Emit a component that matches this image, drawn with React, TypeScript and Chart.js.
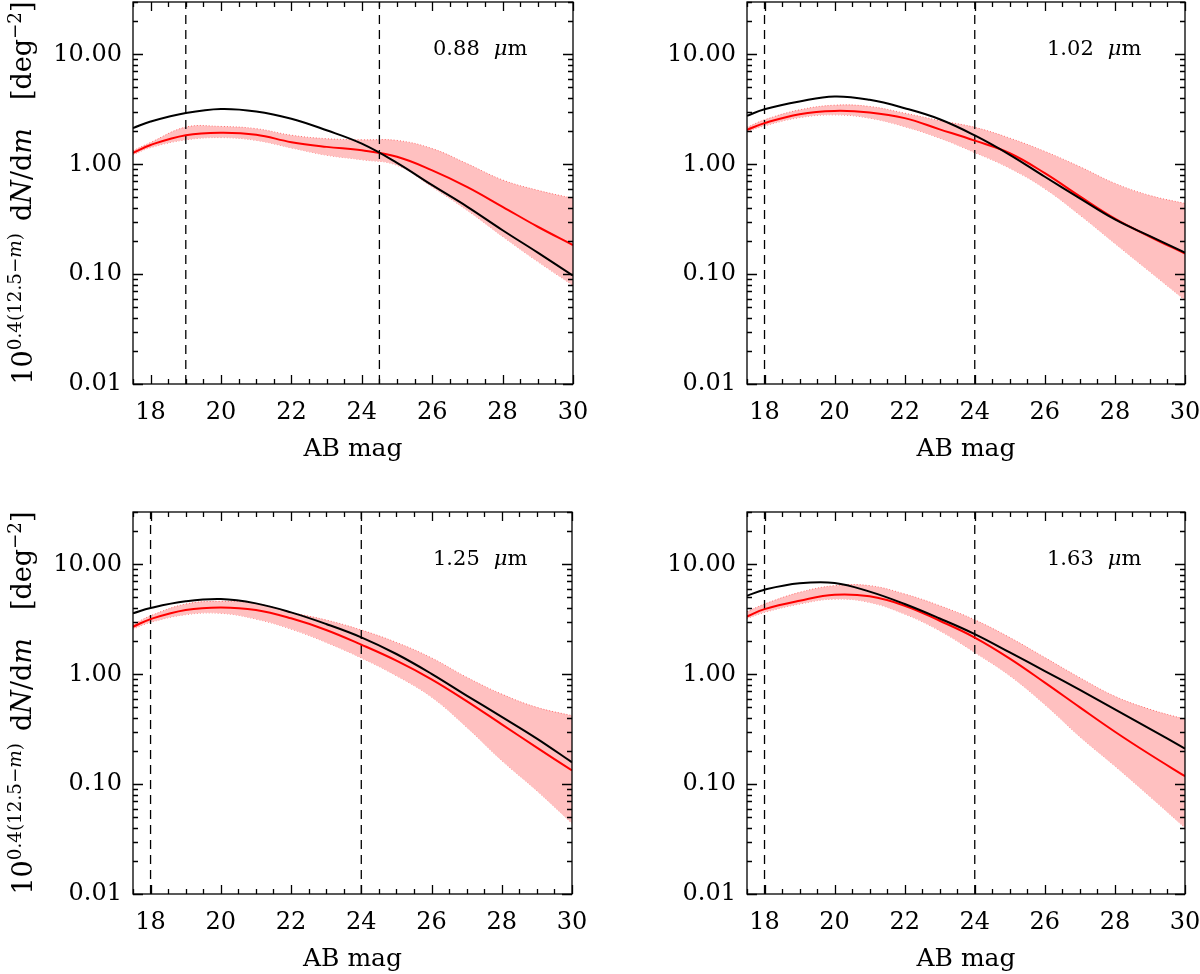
import React, { useEffect, useRef } from 'react';
import { Chart, registerables } from 'chart.js';

Chart.register(...registerables);

// magnitude grid used for every curve
const mags = [17.5, 18, 19, 20, 21, 22, 23, 24, 25, 26, 27, 28, 29, 30];
const xMajor = [18, 20, 22, 24, 26, 28, 30];
const yMajor = [0.01, 0.1, 1, 10];
const bands = ['0.88', '1.02', '1.25', '1.63'];

// 0.88 um
const model088 = [2.14, 2.45, 2.93, 3.19, 3.03, 2.6, 2.04, 1.54, 1.03, 0.645, 0.41, 0.251, 0.157, 0.097];
const median088 = [1.27, 1.5, 1.84, 1.94, 1.86, 1.59, 1.44, 1.34, 1.17, 0.88, 0.62, 0.41, 0.27, 0.184];
const upper088 = [1.33, 1.58, 2.18, 2.21, 2.11, 1.84, 1.71, 1.67, 1.65, 1.39, 1.01, 0.72, 0.58, 0.49];
const lower088 = [1.22, 1.42, 1.67, 1.75, 1.65, 1.41, 1.21, 1.1, 0.98, 0.62, 0.38, 0.22, 0.13, 0.079];
const cuts088 = [19, 24.5];

// 1.02 um
const model102 = [2.76, 3.17, 3.73, 4.14, 3.86, 3.24, 2.57, 1.83, 1.22, 0.77, 0.49, 0.315, 0.222, 0.157];
const median102 = [2.06, 2.37, 2.86, 3.06, 2.96, 2.63, 2.08, 1.64, 1.26, 0.83, 0.51, 0.32, 0.219, 0.154];
const upper102 = [2.17, 2.54, 3.13, 3.45, 3.36, 2.92, 2.5, 2.17, 1.73, 1.31, 0.95, 0.67, 0.52, 0.44];
const lower102 = [1.99, 2.24, 2.66, 2.82, 2.63, 2.2, 1.73, 1.28, 0.92, 0.6, 0.345, 0.19, 0.105, 0.058];
const cuts102 = [18, 24];

// 1.25 um
const model125 = [3.59, 4.01, 4.61, 4.84, 4.42, 3.66, 2.87, 2.17, 1.53, 1.01, 0.64, 0.41, 0.26, 0.158];
const median125 = [2.71, 3.18, 3.85, 4.06, 3.85, 3.23, 2.53, 1.86, 1.33, 0.9, 0.57, 0.35, 0.215, 0.133];
const upper125 = [2.83, 3.41, 4.36, 4.61, 4.42, 3.66, 3.12, 2.53, 1.95, 1.41, 0.94, 0.66, 0.5, 0.42];
const lower125 = [2.58, 2.97, 3.49, 3.59, 3.18, 2.58, 1.95, 1.41, 0.97, 0.62, 0.33, 0.164, 0.087, 0.044];
const cuts125 = [18, 24];

// 1.63 um
const model163 = [5.19, 5.89, 6.73, 6.78, 5.65, 4.36, 3.22, 2.32, 1.58, 1.07, 0.72, 0.48, 0.319, 0.21];
const median163 = [3.36, 3.92, 4.67, 5.3, 5.12, 4.21, 3.07, 2.16, 1.39, 0.84, 0.5, 0.3, 0.186, 0.118];
const upper163 = [3.71, 4.36, 5.57, 6.41, 6.41, 5.38, 4.21, 3.13, 2.16, 1.42, 0.93, 0.63, 0.48, 0.39];
const lower163 = [3.22, 3.66, 4.36, 4.84, 4.51, 3.53, 2.49, 1.58, 0.97, 0.53, 0.27, 0.146, 0.077, 0.04];
const cuts163 = [18, 24];

const FONT = "'DejaVu Serif', serif";
const CW = 600;
const CH = 464;

const pts = (ys: number[]) => mags.map((m, i) => ({ x: m, y: ys[i] }));

// frame with inward ticks, IDL style
const framePlugin = {
  id: 'frame',
  afterDatasetsDraw(chart: any) {
    const { ctx, chartArea: a, scales } = chart;
    const x = scales.x;
    const y = scales.y;
    ctx.save();
    ctx.strokeStyle = '#000';
    ctx.lineWidth = 1.3;
    ctx.strokeRect(a.left, a.top, a.right - a.left, a.bottom - a.top);
    ctx.beginPath();
    for (let m = 17.5; m <= 30.001; m += 0.5) {
      const px = Math.round(x.getPixelForValue(m)) + 0.5;
      const len = m % 2 === 0 ? 9 : 5;
      ctx.moveTo(px, a.bottom);
      ctx.lineTo(px, a.bottom - len);
      ctx.moveTo(px, a.top);
      ctx.lineTo(px, a.top + len);
    }
    for (let e = -2; e <= 1; e++) {
      for (let k = 1; k <= 9; k++) {
        const v = k * Math.pow(10, e);
        if (v > 30) break;
        const py = Math.round(y.getPixelForValue(v)) + 0.5;
        const len = k === 1 ? 10 : 5;
        ctx.moveTo(a.left, py);
        ctx.lineTo(a.left + len, py);
        ctx.moveTo(a.right, py);
        ctx.lineTo(a.right - len, py);
      }
    }
    ctx.stroke();
    ctx.restore();
  },
};

type PanelProps = {
  left: number;
  top: number;
  areaLeft: number;
  areaRight: number;
  model: number[];
  median: number[];
  upper: number[];
  lower: number[];
  cuts: number[];
  band: string;
};

const Panel = ({ left, top, areaLeft, areaRight, model, median, upper, lower, cuts, band }: PanelProps) => {
  const chartRef = useRef<HTMLCanvasElement>(null);

  useEffect(() => {
    if (!chartRef.current) return;
    const cutSets = cuts.map((c) => ({
      data: [{ x: c, y: 0.01 }, { x: c, y: 30 }],
      borderColor: '#000',
      borderWidth: 1.3,
      borderDash: [9, 6],
      tension: 0,
      fill: false,
    }));
    const chart = new Chart(chartRef.current, {
      type: 'line',
      data: {
        datasets: [
          { data: pts(model), borderColor: '#000', borderWidth: 2, tension: 0.4, fill: false },
          { data: pts(median), borderColor: '#ff0000', borderWidth: 2, tension: 0.4, fill: false },
          ...cutSets,
          {
            data: pts(upper),
            borderColor: '#ff6a6a',
            borderWidth: 1,
            borderDash: [1, 2],
            tension: 0.4,
            fill: '+1',
            backgroundColor: '#ffc0c0',
          },
          {
            data: pts(lower),
            borderColor: '#ff6a6a',
            borderWidth: 1,
            borderDash: [1, 2],
            tension: 0.4,
            fill: false,
          },
        ] as any,
      },
      options: {
        animation: false,
        responsive: false,
        layout: { padding: { left: 0, right: CW - areaRight, top: 2, bottom: 0 } },
        elements: { point: { radius: 0 } },
        plugins: { legend: { display: false }, tooltip: { enabled: false } },
        scales: {
          x: {
            type: 'linear',
            min: 17.5,
            max: 30,
            afterBuildTicks: (ax: any) => {
              ax.ticks = xMajor.map((v) => ({ value: v }));
            },
            afterFit: (s: any) => {
              s.height = CH - 384;
              s.paddingLeft = 0;
              s.paddingRight = 0;
            },
            grid: { display: false, drawTicks: false },
            border: { display: false },
            ticks: { font: { family: FONT, size: 24 }, color: '#000', padding: 14, maxRotation: 0, autoSkip: false },
            title: {
              display: true,
              text: 'AB mag',
              font: { family: FONT, size: 25 },
              color: '#000',
              padding: { top: 0, bottom: 0 },
            },
          },
          y: {
            type: 'logarithmic',
            min: 0.01,
            max: 30,
            afterBuildTicks: (ax: any) => {
              ax.ticks = yMajor.map((v) => ({ value: v }));
            },
            afterFit: (s: any) => {
              s.width = areaLeft;
              s.paddingTop = 0;
              s.paddingBottom = 0;
            },
            grid: { display: false, drawTicks: false },
            border: { display: false },
            ticks: {
              font: { family: FONT, size: 24 },
              color: '#000',
              padding: 11,
              autoSkip: false,
              callback: (v: any) => Number(v).toFixed(2),
            },
          },
        },
      } as any,
      plugins: [framePlugin],
    });
    return () => chart.destroy();
  }, []);

  return (
    <>
      <canvas
        ref={chartRef}
        width={CW}
        height={CH}
        style={{ position: 'absolute', left, top, width: CW, height: CH }}
      />
      <div
        style={{
          position: 'absolute',
          left: left + areaLeft + 300,
          top: top + 48,
          transform: 'translateY(-50%)',
          fontFamily: FONT,
          fontSize: 21,
          whiteSpace: 'nowrap',
          color: '#000',
        }}
      >
        {band}
        <span style={{ marginLeft: 14 }}>
          <i>μ</i>m
        </span>
      </div>
    </>
  );
};

const YTitle = ({ cx, cy }: { cx: number; cy: number }) => (
  <div
    style={{
      position: 'absolute',
      left: cx,
      top: cy,
      transform: 'translate(-50%, -50%) rotate(-90deg)',
      fontFamily: FONT,
      fontSize: 27,
      whiteSpace: 'nowrap',
      color: '#000',
      lineHeight: 1,
    }}
  >
    10<sup style={{ fontSize: '0.68em', verticalAlign: '0.55em' }}>0.4(12.5−<i>m</i>)</sup>
    <span style={{ marginLeft: 12 }}>
      d<i>N</i>/d<i>m</i>
    </span>
    <span style={{ marginLeft: 28 }}>
      [deg<sup style={{ fontSize: '0.68em', verticalAlign: '0.55em' }}>−2</sup>]
    </span>
  </div>
);

const App = () => {
  return (
    <div style={{ position: 'absolute', left: 0, top: 0, width: 1200, height: 974, background: '#fff', overflow: 'hidden' }}>
      <Panel left={0} top={0} areaLeft={133} areaRight={573} model={model088} median={median088} upper={upper088} lower={lower088} cuts={cuts088} band={bands[0]} />
      <Panel left={600} top={0} areaLeft={147} areaRight={585} model={model102} median={median102} upper={upper102} lower={lower102} cuts={cuts102} band={bands[1]} />
      <Panel left={0} top={510} areaLeft={133} areaRight={572} model={model125} median={median125} upper={upper125} lower={lower125} cuts={cuts125} band={bands[2]} />
      <Panel left={600} top={510} areaLeft={147} areaRight={585} model={model163} median={median163} upper={upper163} lower={lower163} cuts={cuts163} band={bands[3]} />
      <YTitle cx={21} cy={193} />
      <YTitle cx={21} cy={703} />
    </div>
  );
};

export default App;
